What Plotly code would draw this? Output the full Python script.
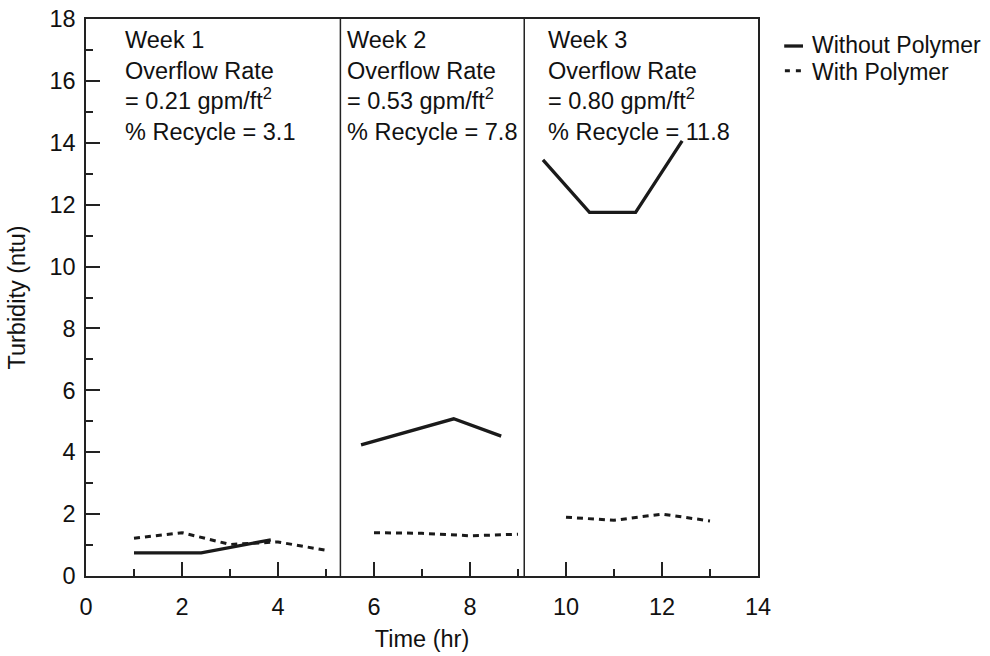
import plotly.graph_objects as go

# ---- data ----
w1_without_x = [1.0, 2.4, 3.85]
w1_without_y = [0.75, 0.75, 1.17]
w1_with_x = [1.0, 2.0, 3.0, 4.0, 5.0]
w1_with_y = [1.22, 1.40, 1.02, 1.10, 0.83]

w2_without_x = [5.73, 7.66, 8.65]
w2_without_y = [4.24, 5.08, 4.52]
w2_with_x = [6.0, 7.0, 8.0, 9.0]
w2_with_y = [1.40, 1.38, 1.30, 1.35]

w3_without_x = [9.52, 10.49, 11.45, 12.42]
w3_without_y = [13.45, 11.75, 11.75, 14.06]
w3_with_x = [10.0, 11.0, 12.0, 13.0]
w3_with_y = [1.90, 1.80, 2.00, 1.78]

week_boundaries = [5.3, 9.13]
week_label_x = [0.77, 5.39, 9.58]
week_labels = [
    "Week 1<br>Overflow Rate<br>= 0.21 gpm/ft<sup>2</sup><br>% Recycle = 3.1",
    "Week 2<br>Overflow Rate<br>= 0.53 gpm/ft<sup>2</sup><br>% Recycle = 7.8",
    "Week 3<br>Overflow Rate<br>= 0.80 gpm/ft<sup>2</sup><br>% Recycle = 11.8",
]
series_names = ["Without Polymer", "With Polymer"]

FONT = "Liberation Sans, Arial, Helvetica, sans-serif"
FS = 23.5

fig = go.Figure()
without = [(w1_without_x, w1_without_y), (w2_without_x, w2_without_y), (w3_without_x, w3_without_y)]
withp = [(w1_with_x, w1_with_y), (w2_with_x, w2_with_y), (w3_with_x, w3_with_y)]
for xs, ys in without:
    fig.add_trace(go.Scatter(x=xs, y=ys, mode="lines", showlegend=False,
                             line=dict(color="#1a1a1a", width=3.3), name=series_names[0]))
for xs, ys in withp:
    fig.add_trace(go.Scatter(x=xs, y=ys, mode="lines", showlegend=False,
                             line=dict(color="#1a1a1a", width=3, dash="6px,5px"), name=series_names[1]))

shapes = []
for b in week_boundaries:
    shapes.append(dict(type="line", xref="x", yref="paper", x0=b, x1=b, y0=0, y1=1,
                       line=dict(color="#222", width=1.5)))
# legend samples
shapes.append(dict(type="line", xref="paper", yref="paper", x0=1.039, x1=1.067, y0=0.9515, y1=0.9515,
                   line=dict(color="#1a1a1a", width=3.3)))
shapes.append(dict(type="line", xref="paper", yref="paper", x0=1.040, x1=1.069, y0=0.9072, y1=0.9072,
                   line=dict(color="#1a1a1a", width=3, dash="5px,6px")))

annotations = []
for lx, txt in zip(week_label_x, week_labels):
    annotations.append(dict(x=lx, y=0.989, xref="x", yref="paper", text=txt, showarrow=False,
                            xanchor="left", yanchor="top", align="left",
                            font=dict(family=FONT, size=FS, color="#111")))
for yy, name in zip([0.953, 0.9054], series_names):
    annotations.append(dict(x=1.078, y=yy, xref="paper", yref="paper", text=name, showarrow=False,
                            xanchor="left", yanchor="middle", align="left",
                            font=dict(family=FONT, size=23, color="#111")))

fig.update_layout(
    width=990, height=656,
    margin=dict(l=86, r=232, t=19, b=80),
    paper_bgcolor="white", plot_bgcolor="white",
    font=dict(family=FONT, size=FS, color="#111"),
    shapes=shapes, annotations=annotations,
    showlegend=False,
)
fig.update_xaxes(range=[0, 14], dtick=2, tick0=0, ticks="inside", ticklen=14, tickwidth=1.5,
                 tickcolor="#222", showline=True, linecolor="#222", linewidth=1.5, mirror=True,
                 showgrid=False, zeroline=False, automargin=False, ticklabelstandoff=9,
                 ticklabeloverflow="allow",
                 minor=dict(dtick=1, ticks="inside", ticklen=7, tickwidth=1.5, tickcolor="#222", showgrid=False),
                 title=dict(text="Time (hr)", font=dict(family=FONT, size=FS), standoff=12),
                 tickfont=dict(family=FONT, size=FS))
fig.update_yaxes(range=[0, 18], dtick=2, tick0=0, ticks="inside", ticklen=14, tickwidth=1.5,
                 tickcolor="#222", showline=True, linecolor="#222",
                 linewidth=1.5, mirror=True,
                 showgrid=False, zeroline=False, automargin=False, ticklabelstandoff=4,
                 ticklabeloverflow="allow",
                 minor=dict(dtick=1, ticks="inside", ticklen=7, tickwidth=1.5, tickcolor="#222", showgrid=False),
                 title=dict(text="Turbidity (ntu)", font=dict(family=FONT, size=FS), standoff=17),
                 tickfont=dict(family=FONT, size=FS))

fig.write_html("out.html", config={"displayModeBar": False},
               post_script="document.body.style.margin='0';document.body.style.overflow='hidden';")
